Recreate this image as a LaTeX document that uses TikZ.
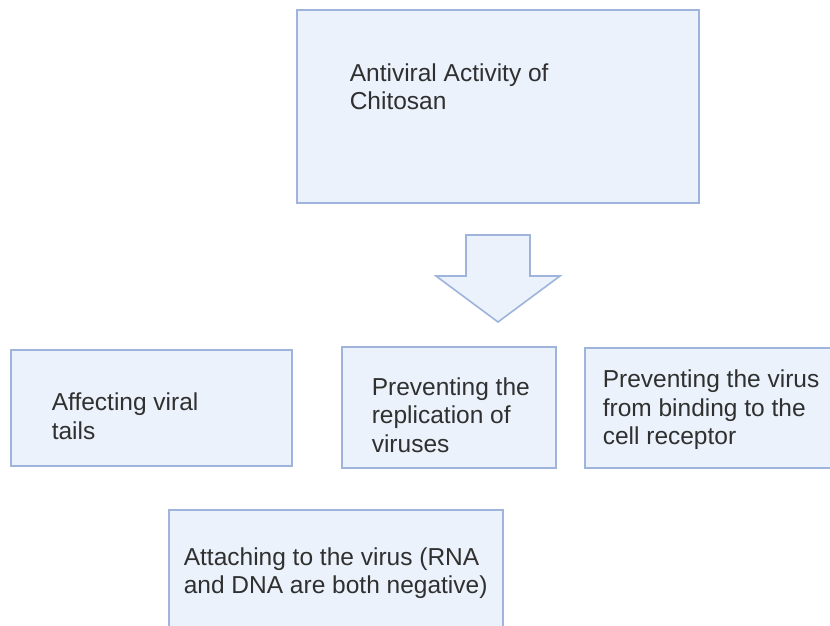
\documentclass[tikz,border=0pt]{standalone}
\usepackage{fontspec}
\setmainfont{Liberation Sans}
\usetikzlibrary{positioning}
\definecolor{boxfill}{RGB}{235,242,251}
\definecolor{boxline}{RGB}{158,180,221}
\definecolor{txtgray}{RGB}{48,48,48}
\begin{document}
\begin{tikzpicture}
[x=1bp, y=-1bp, line width=1.6bp,
box/.style={rectangle, draw=boxline, fill=boxfill, inner sep=0pt},
txt/.style={anchor=west, align=left, inner sep=0pt, text=txtgray,
  font=\fontsize{24.5bp}{28.5bp}\selectfont}
]
\useasboundingbox (0,0) rectangle (830,626);
\clip (0,0) rectangle (830,626);

% boxes
\node[box, minimum width=402bp, minimum height=193bp] (top) at (498,106.5) {};
\node[box, minimum width=281bp, minimum height=116bp] (tails) at (151.5,408) {};
\node[box, minimum width=214bp, minimum height=121bp] (repl) at (449,407.5) {};
\node[box, minimum width=255bp, minimum height=120bp] (bind) at (712.5,408) {};
\node[box, minimum width=334bp, minimum height=130bp] (attach) at (336,575) {};

% texts
\node[txt] (toptxt) at (349,86.5) {Antiviral Activity of\\Chitosan};
\node[txt] (tailstxt) at (51,416) {Affecting viral\\tails};
\node[txt] (repltxt) at (371,415) {Preventing the\\replication of\\viruses};
\node[txt] (bindtxt) at (602,410) {Preventing the virus\\from binding to the\\cell receptor};
\node[txt] (attachtxt) at (183,573) {Attaching to the virus (RNA\\and DNA are both negative)};

% block arrow
\draw[draw=boxline, fill=boxfill, line join=miter]
  (466,235) -- (530,235) -- (530,276) -- (560,276) -- (498,322)
  -- (436,276) -- (466,276) -- cycle;
\end{tikzpicture}
\end{document}
